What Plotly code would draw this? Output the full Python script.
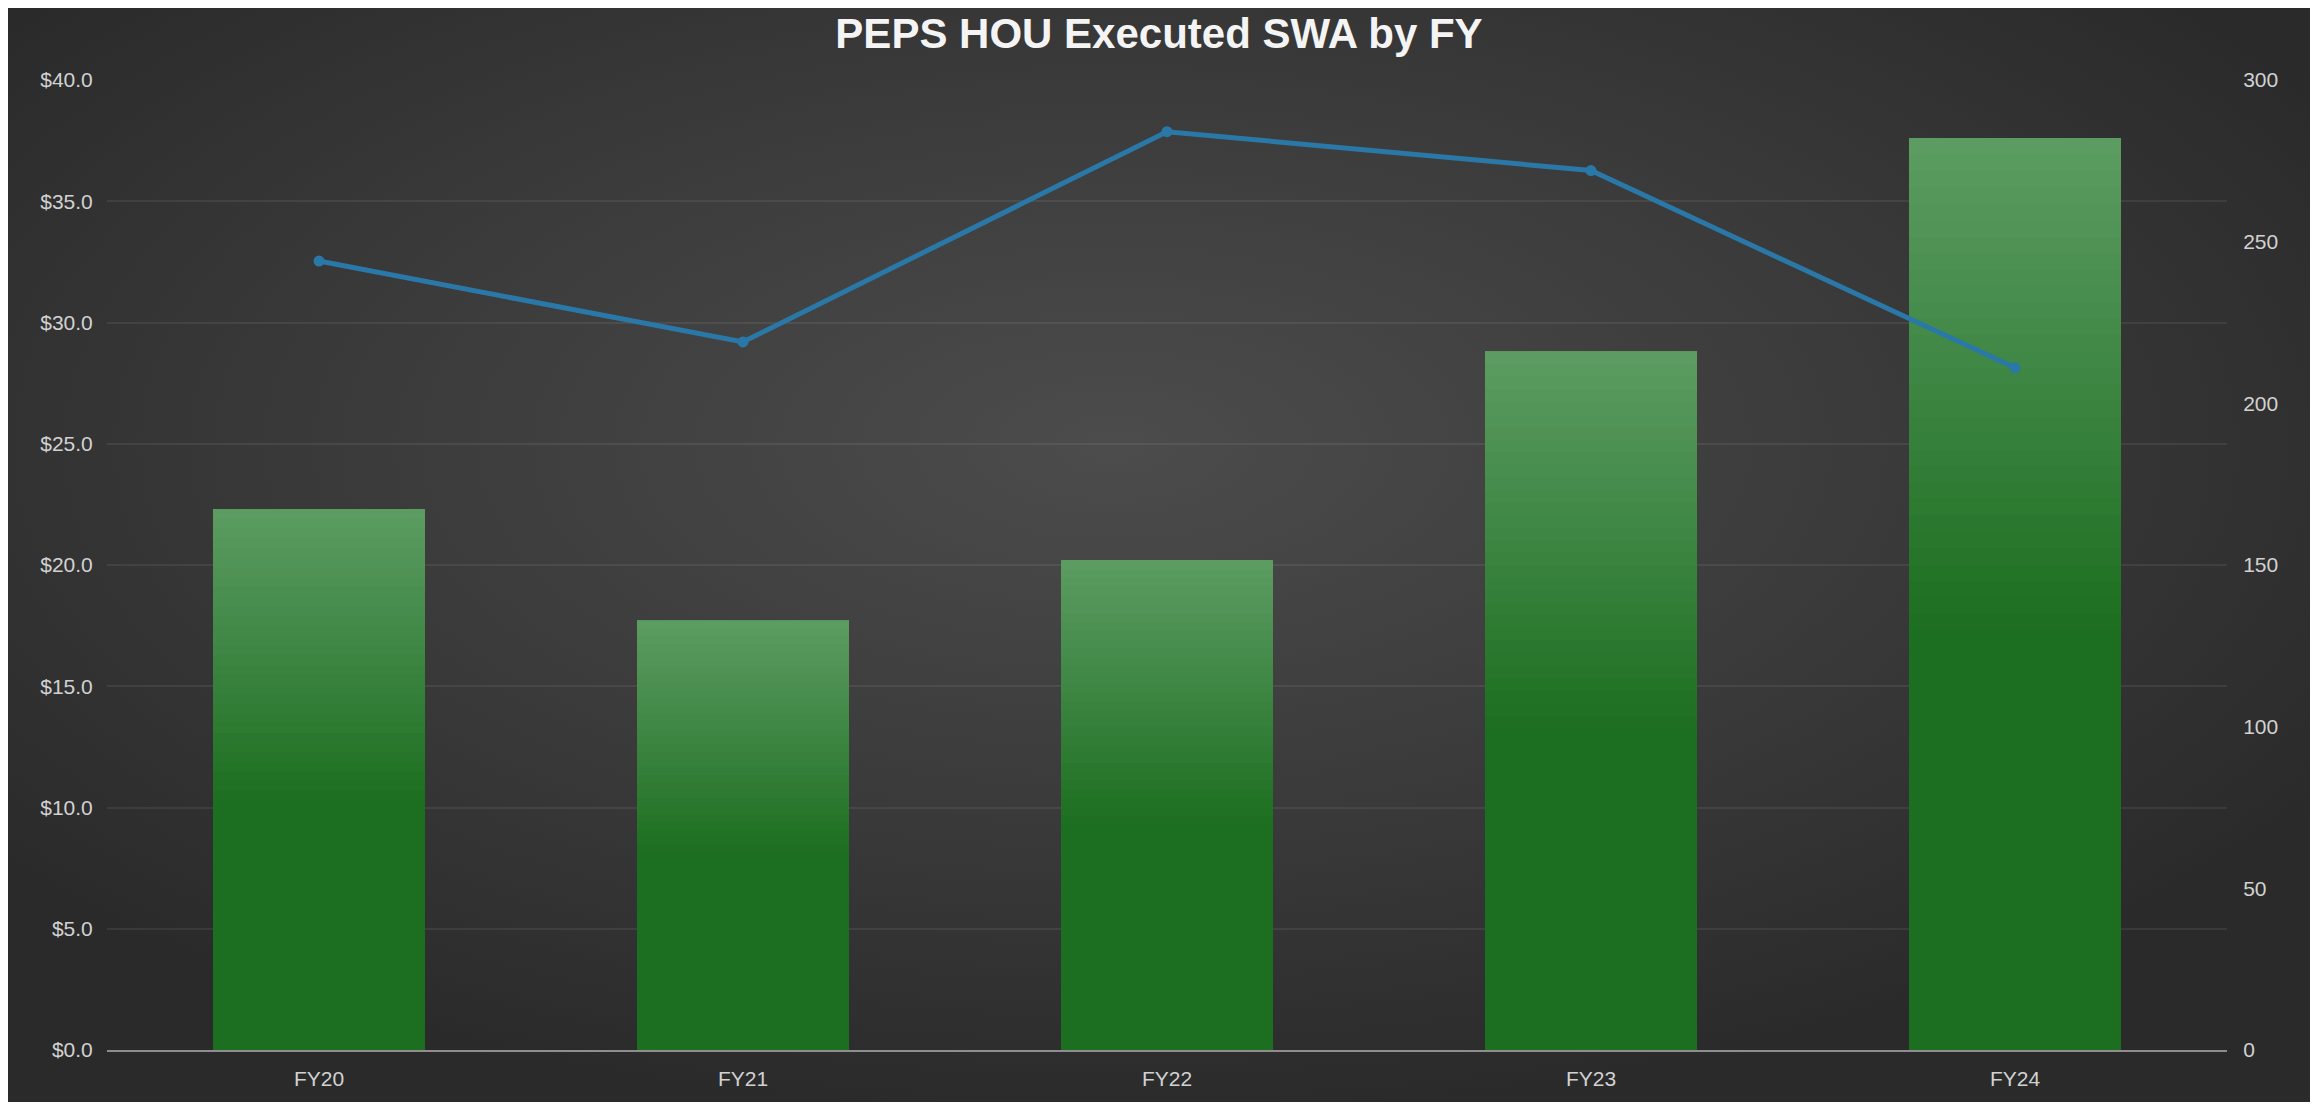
import base64
import plotly.graph_objects as go

# ---- data ----
categories = ["FY20", "FY21", "FY22", "FY23", "FY24"]
swa_value = [22.3, 17.7, 20.2, 28.8, 37.6]      # left axis, $ (bars)
swa_count = [244, 219, 284, 272, 211]           # right axis (line)
left_ticks = [0, 5, 10, 15, 20, 25, 30, 35, 40]
right_ticks = [0, 50, 100, 150, 200, 250, 300]

# ---- styles ----
DARK_GREEN = (28, 110, 32)
LIGHT_GREEN = (92, 156, 98)
LINE_COLOR = "#2a78a8"
TICK_COLOR = "#d2d2d2"
FONT = "Liberation Sans, Arial, sans-serif"

# figure sits at (8, 8) in the page because of the default body margin
W, H = 2302, 1094
L, R, T, B = 99, 83, 72, 52
pw, ph = W - L - R, H - T - B

fig = go.Figure()

# base bar (dark green)
fig.add_trace(go.Bar(
    x=categories, y=swa_value,
    marker=dict(color="rgb(%d,%d,%d)" % DARK_GREEN, line=dict(width=0)),
    hoverinfo="skip", showlegend=False,
))

# gradient overlay on the upper part of each bar (each layer runs to the top)
N = 30
g0 = 0.46
for i in range(N):
    f0 = g0 + (1 - g0) * i / N
    t = (i + 1) / N
    c = tuple(int(DARK_GREEN[k] + (LIGHT_GREEN[k] - DARK_GREEN[k]) * t) for k in range(3))
    fig.add_trace(go.Bar(
        x=categories,
        y=[v * (1 - f0) for v in swa_value],
        base=[v * f0 for v in swa_value],
        marker=dict(color="rgb(%d,%d,%d)" % c, line=dict(width=0)),
        hoverinfo="skip", showlegend=False,
    ))

fig.add_trace(go.Scatter(
    x=categories, y=swa_count, yaxis="y2", mode="lines+markers",
    line=dict(color=LINE_COLOR, width=5),
    marker=dict(color=LINE_COLOR, size=11),
    showlegend=False,
))

# radial gradient background image
svg = (
    '<svg xmlns="http://www.w3.org/2000/svg" width="2302" height="1094" '
    'viewBox="0 0 2302 1094" preserveAspectRatio="none">'
    '<defs><radialGradient id="g" cx="0.48" cy="0.40" r="0.62">'
    '<stop offset="0" stop-color="#4c4c4c"/>'
    '<stop offset="0.55" stop-color="#3a3a3a"/>'
    '<stop offset="1" stop-color="#2a2a2a"/>'
    '</radialGradient></defs>'
    '<rect width="2302" height="1094" fill="url(#g)"/></svg>'
)
src = "data:image/svg+xml;base64," + base64.b64encode(svg.encode()).decode()

x0 = -L / pw
x1 = (W - L) / pw
y0 = (H - B) / ph
y1 = -B / ph

fig.update_layout(
    width=W, height=H,
    margin=dict(l=L, r=R, t=T, b=B),
    paper_bgcolor="#2c2c2c",
    plot_bgcolor="rgba(0,0,0,0)",
    barmode="overlay",
    bargap=0.5,
    images=[dict(
        source=src, xref="paper", yref="paper",
        x=x0, y=y0, sizex=x1 - x0, sizey=y0 - y1,
        xanchor="left", yanchor="top", sizing="stretch", layer="below",
    )],
    title=dict(
        text="PEPS HOU Executed SWA by FY",
        x=0.5, xref="container", xanchor="center",
        y=1 - 25 / H, yref="container", yanchor="middle",
        font=dict(family=FONT, size=42, color="#f4f4f4", weight=700),
    ),
    xaxis=dict(
        showgrid=False, showline=True, linecolor="#8e8e8e", linewidth=2,
        ticks="outside", ticklen=9, tickcolor="rgba(0,0,0,0)",
        tickfont=dict(family=FONT, size=21, color=TICK_COLOR),
    ),
    yaxis=dict(
        range=[0, 40], tickvals=left_ticks, tickformat="$.1f",
        showgrid=True, gridcolor="rgba(255,255,255,0.07)", gridwidth=2,
        zeroline=False, showline=False,
        ticks="outside", ticklen=9, tickcolor="rgba(0,0,0,0)",
        tickfont=dict(family=FONT, size=21, color=TICK_COLOR),
    ),
    yaxis2=dict(
        range=[0, 300], tickvals=right_ticks, overlaying="y", side="right",
        showgrid=False, zeroline=False, showline=False,
        ticks="outside", ticklen=11, tickcolor="rgba(0,0,0,0)",
        tickfont=dict(family=FONT, size=21, color=TICK_COLOR),
    ),
)

fig.write_html("out.html")
